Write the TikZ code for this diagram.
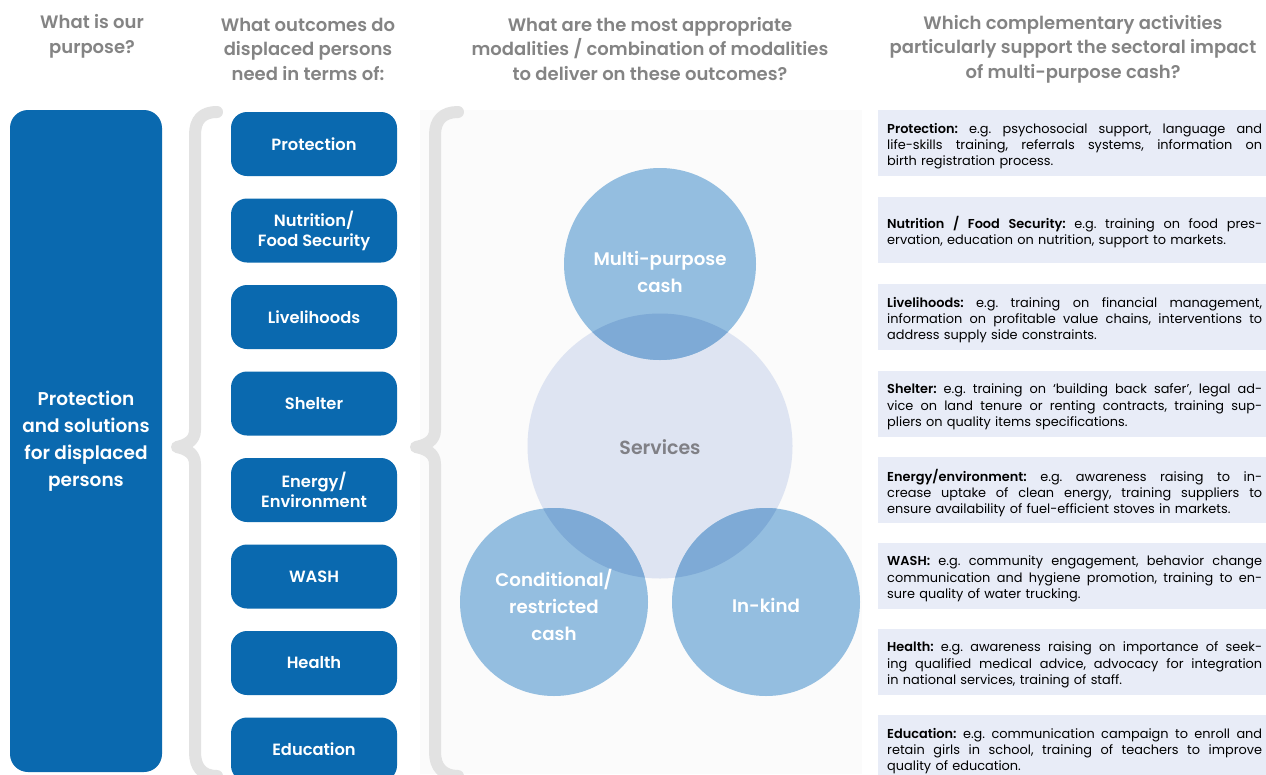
\documentclass[tikz,border=0pt]{standalone}
\usepackage{fontspec}
\setmainfont{Poppins}[BoldFont={Poppins SemiBold}]
\newfontfamily\bodyfont{Poppins}[BoldFont={Poppins SemiBold}]
\definecolor{dblue}{RGB}{10,105,175}
\definecolor{hgray}{RGB}{132,132,132}
\definecolor{svcfill}{RGB}{222,228,242}
\definecolor{svctext}{RGB}{128,128,134}
\definecolor{smallc}{RGB}{148,190,224}
\definecolor{ovlc}{RGB}{126,170,214}
\definecolor{actbg}{RGB}{232,236,247}
\definecolor{bracec}{RGB}{226,226,226}
\definecolor{panelbg}{RGB}{251,251,251}
\newcommand\jline[1]{\makebox[375pt][s]{\frenchspacing\spaceskip=\fontdimen2\font plus 1fil\relax #1}}
\newcommand\lline[1]{\makebox[375pt][l]{\frenchspacing #1}}
\begin{document}
\begin{tikzpicture}[x=1pt,y=-1pt,
  hdr/.style={font=\fontsize{18}{24.5}\selectfont\bfseries, text=hgray, align=center, inner sep=0pt},
  outbox/.style={fill=dblue, rounded corners=16pt, minimum width=166pt, minimum height=64pt, text=white, font=\fontsize{16.3}{20}\selectfont\bfseries, align=center, inner sep=0pt},
  actbox/.style={fill=actbg, anchor=west, minimum width=393pt, minimum height=66pt, inner sep=0pt},
  acttext/.style={anchor=west, text width=375pt, inner sep=0pt, font=\bodyfont\fontsize{12.9}{16.3}\selectfont, align=left},
  circ/.style={circle, inner sep=0pt},
  ctext/.style={text=white, font=\fontsize{18.2}{27}\selectfont\bfseries, align=center, inner sep=0pt},
  brace/.style={draw=bracec, line width=12pt, line join=round, line cap=round}]
\clip (0,0) rectangle (1266,774);
\fill[white] (0,0) rectangle (1266,774);
% headers
\node[hdr] (h1) at (92,36.5) {What is our\\purpose?};
\node[hdr] (h2) at (308,49) {What outcomes do\\displaced persons\\need in terms of:};
\node[hdr] (h3) at (650,49) {What are the most appropriate\\modalities / combination of modalities\\to deliver on these outcomes?};
\node[hdr] (h4) at (1073,49) {Which complementary activities\\particularly support the sectoral impact\\of multi-purpose cash?};
% purpose
\node[fill=dblue, rounded corners=18pt, minimum width=152pt, minimum height=662pt, inner sep=0pt, text=white, align=center, font=\fontsize{18.5}{27}\selectfont\bfseries] (purpose) at (86,441) {Protection\\and solutions\\for displaced\\persons};
% panel
\fill[panelbg] (420,110) rectangle (862,774);
% braces
\draw[brace] (217,112) .. controls (202,112) and (195,120) .. (195,135) -- (195,430) .. controls (195,441) and (186,445) .. (177,447) .. controls (186,449) and (195,453) .. (195,464) -- (195,752) .. controls (195,767) and (202,776) .. (217,776);
\draw[brace] (458,112) .. controls (443,112) and (435,120) .. (435,135) -- (435,430) .. controls (435,441) and (426,445) .. (416,447) .. controls (426,449) and (435,453) .. (435,464) -- (435,752) .. controls (435,767) and (443,776) .. (458,776);
% outcomes
\node[outbox] (o1) at (314,144) {Protection};
\node[outbox] (o2) at (314,230.5) {Nutrition/\\Food Security};
\node[outbox] (o3) at (314,317) {Livelihoods};
\node[outbox] (o4) at (314,403.5) {Shelter};
\node[outbox] (o5) at (314,490) {Energy/\\Environment};
\node[outbox] (o6) at (314,576.5) {WASH};
\node[outbox] (o7) at (314,663) {Health};
\node[outbox] (o8) at (314,749.5) {Education};
% circles
\node[circ, fill=svcfill, minimum size=265pt] (svc) at (660,446) {};
\node[circ, fill=smallc, minimum size=192pt] (mpc) at (660,264) {};
\node[circ, fill=smallc, minimum size=188pt] (ccash) at (554,602) {};
\node[circ, fill=smallc, minimum size=188pt] (inkind) at (766,602) {};
\begin{scope}
\clip (mpc.center) circle (96pt);
\fill[ovlc] (svc.center) circle (132.5pt);
\end{scope}
\begin{scope}
\clip (ccash.center) circle (94pt);
\fill[ovlc] (svc.center) circle (132.5pt);
\end{scope}
\begin{scope}
\clip (inkind.center) circle (94pt);
\fill[ovlc] (svc.center) circle (132.5pt);
\end{scope}
\node[ctext] (mpct) at (660,271.5) {Multi-purpose\\cash};
\node[ctext, text=svctext, font=\fontsize{19}{27}\selectfont\bfseries] (svct) at (660,447) {Services};
\node[ctext] (cct) at (554,605) {Conditional/\\restricted\\cash};
\node[ctext] (ikt) at (766,605) {In-kind};
% activities
\node[actbox] (a1) at (878,143) {};
\node[actbox] (a2) at (878,230) {};
\node[actbox] (a3) at (878,317) {};
\node[actbox] (a4) at (878,404) {};
\node[actbox] (a5) at (878,490) {};
\node[actbox] (a6) at (878,576) {};
\node[actbox] (a7) at (878,662) {};
\node[actbox] (a8) at (878,748) {};
\node[acttext] (t1) at ([xshift=9pt,yshift=-3pt]a1.west) {\jline{\textbf{Protection:} e.g. psychosocial support, language and}\\\jline{life-skills training, referrals systems, information on}\\\lline{birth registration process.}};
\node[acttext] (t2) at ([xshift=9pt,yshift=-2pt]a2.west) {\jline{\textbf{Nutrition / Food Security:} e.g. training on food pres-}\\\lline{ervation, education on nutrition, support to markets.}};
\node[acttext] (t3) at ([xshift=9pt,yshift=-3pt]a3.west) {\jline{\textbf{Livelihoods:} e.g. training on financial management,}\\\jline{information on profitable value chains, interventions to}\\\lline{address supply side constraints.}};
\node[acttext] (t4) at ([xshift=9pt,yshift=-3pt]a4.west) {\jline{\textbf{Shelter:} e.g. training on ‘building back safer’, legal ad-}\\\jline{vice on land tenure or renting contracts, training sup-}\\\lline{pliers on quality items specifications.}};
\node[acttext] (t5) at ([xshift=9pt,yshift=-3pt]a5.west) {\jline{\textbf{Energy/environment:} e.g. awareness raising to in-}\\\jline{crease uptake of clean energy, training suppliers to}\\\lline{ensure availability of fuel-efficient stoves in markets.}};
\node[acttext] (t6) at ([xshift=9pt,yshift=-3pt]a6.west) {\jline{\textbf{WASH:} e.g. community engagement, behavior change}\\\jline{communication and hygiene promotion, training to en-}\\\lline{sure quality of water trucking.}};
\node[acttext] (t7) at ([xshift=9pt,yshift=-3pt]a7.west) {\jline{\textbf{Health:} e.g. awareness raising on importance of seek-}\\\jline{ing qualified medical advice, advocacy for integration}\\\lline{in national services, training of staff.}};
\node[acttext] (t8) at ([xshift=9pt,yshift=-3pt]a8.west) {\jline{\textbf{Education:} e.g. communication campaign to enroll and}\\\jline{retain girls in school, training of teachers to improve}\\\lline{quality of education.}};
\end{tikzpicture}
\end{document}
